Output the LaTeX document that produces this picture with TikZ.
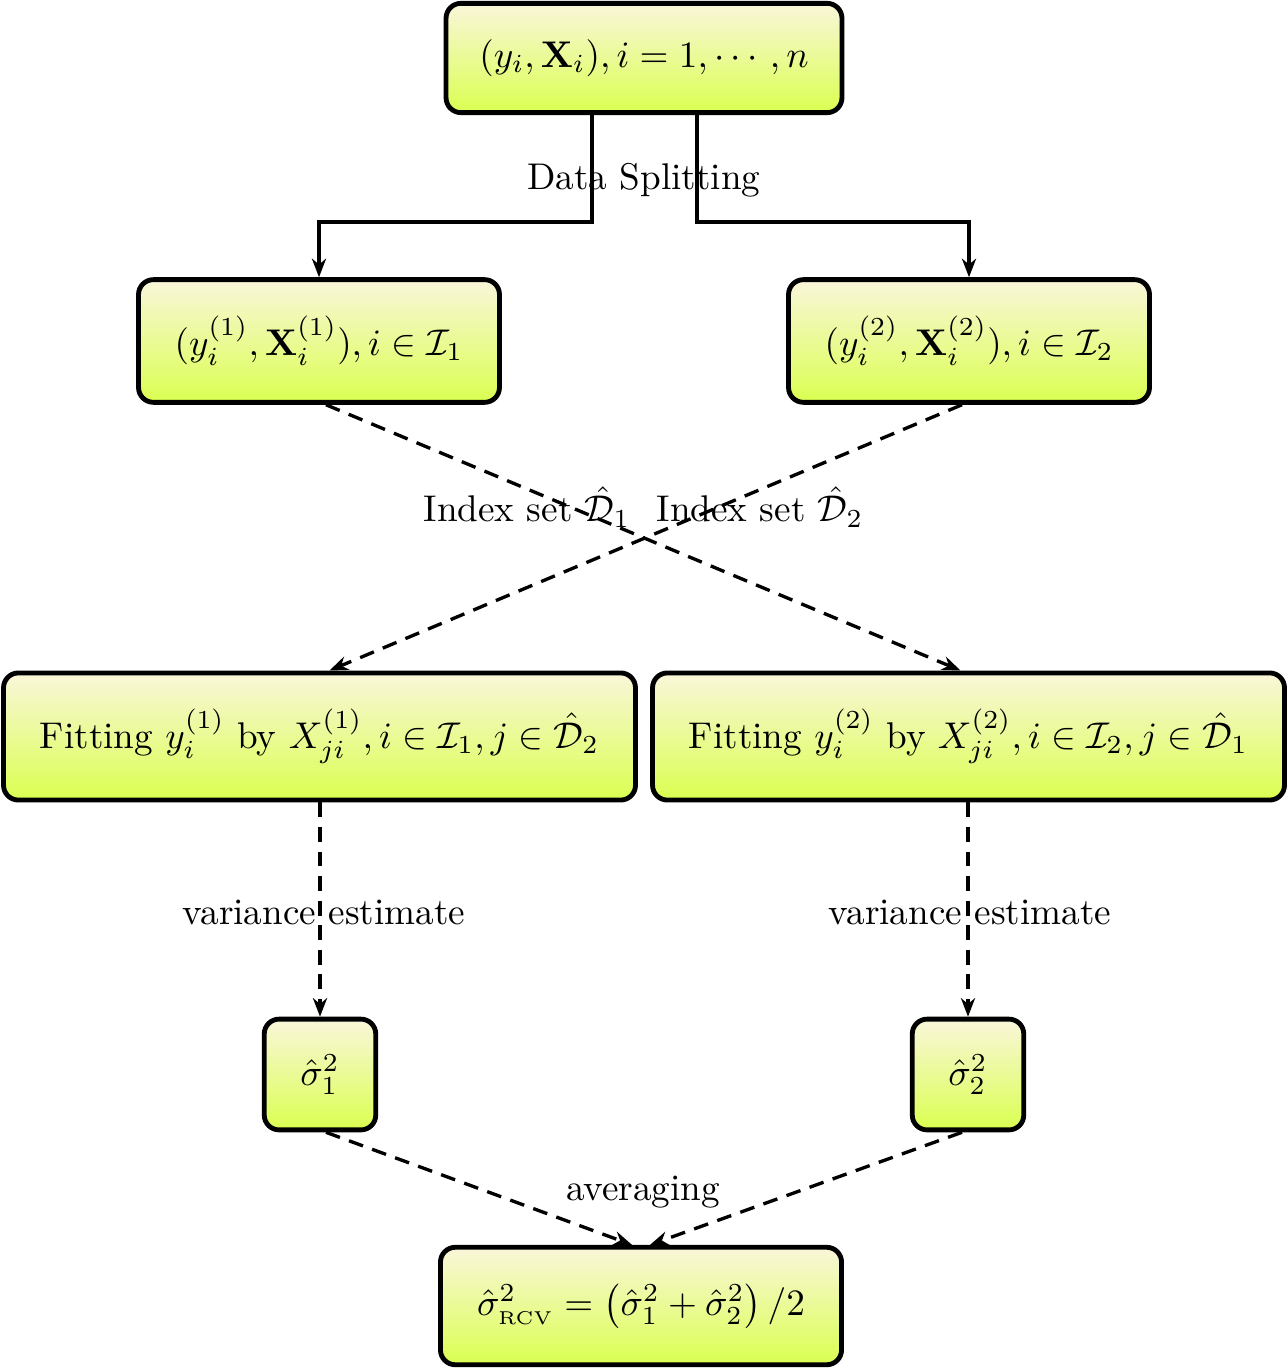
\documentclass[tikz,border=0pt]{standalone}
\usepackage{amsmath,amssymb}
\usetikzlibrary{arrows.meta}
\definecolor{boxtop}{RGB}{250,246,218}
\definecolor{boxbot}{RGB}{218,255,80}
\begin{document}
\begin{tikzpicture}[x=0.269pt,y=-0.269pt,
  stepbox/.style={draw=black,line width=1.3pt,rounded corners=4pt,
    top color=boxtop,bottom color=boxbot,inner sep=0pt,align=center},
  solidarrow/.style={line width=0.9pt,-{Stealth[length=5pt,width=3.8pt,inset=1.6pt]}},
  dasharrow/.style={line width=0.9pt,dash pattern=on 4pt off 2.6pt,-{Stealth[length=5pt,width=3.8pt,inset=1.6pt]}},
  lbl/.style={inner sep=1pt}]
\useasboundingbox (0,0) rectangle (1288,1368);
\node[stepbox,minimum width=106.5pt,minimum height=29.4pt] (top) at (644,58) {$(y_i,\mathbf{X}_i), i=1,\cdots,n$};
\node[stepbox,minimum width=97.1pt,minimum height=33pt] (l2) at (319,341) {$(y_i^{(1)},\mathbf{X}_i^{(1)}), i\in\mathcal{I}_1$};
\node[stepbox,minimum width=97.1pt,minimum height=33pt] (r2) at (969,341) {$(y_i^{(2)},\mathbf{X}_i^{(2)}), i\in\mathcal{I}_2$};
\node[stepbox,minimum width=170pt,minimum height=34.2pt] (lf) at (319.5,736.5) {Fitting $y_i^{(1)}$ by $X_{ji}^{(1)}, i\in\mathcal{I}_1, j\in\hat{\mathcal{D}}_2$};
\node[stepbox,minimum width=170pt,minimum height=34.2pt] (rf) at (968.5,736.5) {Fitting $y_i^{(2)}$ by $X_{ji}^{(2)}, i\in\mathcal{I}_2, j\in\hat{\mathcal{D}}_1$};
\node[stepbox,minimum width=30pt,minimum height=29.8pt] (s1) at (320,1074.5) {$\hat\sigma_1^2$};
\node[stepbox,minimum width=30pt,minimum height=29.8pt] (s2) at (968,1074.5) {$\hat\sigma_2^2$};
\node[stepbox,minimum width=107.9pt,minimum height=31.6pt] (bot) at (641,1306) {$\hat\sigma^2_{\mathrm{\scriptscriptstyle RCV}} = \left(\hat\sigma_1^2+\hat\sigma_2^2\right)/2$};
% splitting
\coordinate (tl) at (592,222);
\coordinate (tr) at (697,222);
\draw[solidarrow] (top.south -| tl) -- (tl) -| (l2.north);
\draw[solidarrow] (top.south -| tr) -- (tr) -| (r2.north);
\node[lbl] (ds) at (644,180) {Data Splitting};
% crossing
\draw[dasharrow] ([xshift=7*0.269pt]l2.south) -- ([xshift=-8*0.269pt]rf.north);
\draw[dasharrow] ([xshift=-7*0.269pt]r2.south) -- ([xshift=10*0.269pt]lf.north);
\node[lbl] (i1) at (527,507) {Index set $\hat{\mathcal{D}}_1$};
\node[lbl] (i2) at (760,507) {Index set $\hat{\mathcal{D}}_2$};
% variance
\draw[dasharrow] (lf.south -| s1) -- (s1.north);
\draw[dasharrow] (rf.south -| s2) -- (s2.north);
\node[lbl] (v1) at (324,912) {variance estimate};
\node[lbl] (v2) at (970,912) {variance estimate};
% averaging
\draw[dasharrow] ([xshift=6*0.269pt]s1.south) -- ([xshift=-9*0.269pt]bot.north);
\draw[dasharrow] ([xshift=-6*0.269pt]s2.south) -- ([xshift=9*0.269pt]bot.north);
\node[lbl] (av) at (643,1192) {averaging};
\end{tikzpicture}
\end{document}
